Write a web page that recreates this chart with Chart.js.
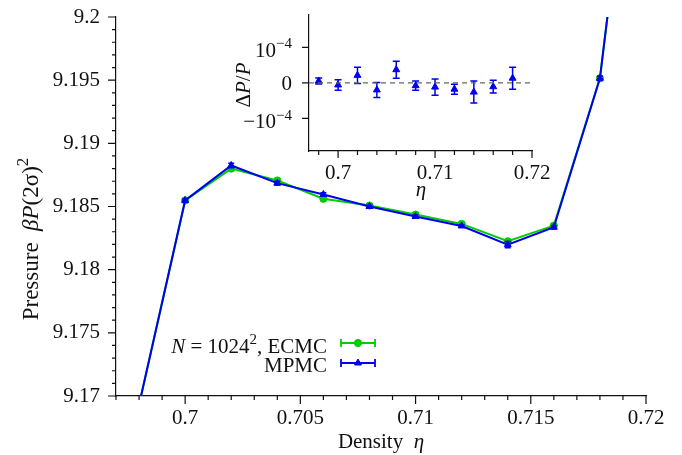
<!DOCTYPE html>
<html>
<head>
<meta charset="utf-8">
<script src="https://cdn.jsdelivr.net/npm/chart.js@4.4.1/dist/chart.umd.min.js"></script>
<style>
  body { margin: 0; background: #fff; }
  #wrap { position: relative; width: 682px; height: 455px; }
  #main { position: absolute; left: 0; top: 0; }
  #inset { position: absolute; left: 230px; top: 0; }
</style>
</head>
<body>
<div id="wrap">
  <canvas id="main" width="682" height="455"></canvas>
  <canvas id="inset" width="330" height="200"></canvas>
</div>
<script>
// main panel: pressure vs density
const etaMain = [0.698, 0.700, 0.702, 0.704, 0.706, 0.708, 0.710, 0.712, 0.714, 0.716, 0.718, 0.720];
const pressureECMC = [9.1693, 9.18548, 9.18800, 9.18706, 9.18561, 9.18508, 9.18436, 9.18362, 9.18225, 9.18349, 9.19515, 9.2250];
const errorECMC = [0.0002, 0.00012, 0.00014, 0.00012, 0.00014, 0.0001, 0.0001, 0.0001, 0.00012, 0.0001, 0.00015, 0.0002];
const pressureMPMC = [9.1693, 9.18548, 9.18825, 9.18685, 9.18595, 9.18500, 9.18421, 9.18346, 9.18198, 9.18336, 9.19515, 9.2250];
const errorMPMC = [0.0002, 0.00012, 0.00018, 0.00014, 0.00014, 0.0001, 0.00012, 0.0001, 0.00024, 0.00012, 0.00018, 0.0002];

const xTicksMain = [0.7, 0.705, 0.71, 0.715, 0.72];
const xLabelsMain = ['0.7', '0.705', '0.71', '0.715', '0.72'];
const yTicksMain = [9.17, 9.175, 9.18, 9.185, 9.19, 9.195, 9.2];
const yLabelsMain = ['9.17', '9.175', '9.18', '9.185', '9.19', '9.195', '9.2'];

// inset: relative difference
const etaInset = [0.698, 0.700, 0.702, 0.704, 0.706, 0.708, 0.710, 0.712, 0.714, 0.716, 0.718];
const deltaP = [0.05e-4, -0.06e-4, 0.21e-4, -0.20e-4, 0.37e-4, -0.08e-4, -0.12e-4, -0.18e-4, -0.26e-4, -0.11e-4, 0.13e-4];
const deltaPErr = [0.085e-4, 0.15e-4, 0.23e-4, 0.21e-4, 0.24e-4, 0.13e-4, 0.23e-4, 0.14e-4, 0.31e-4, 0.18e-4, 0.31e-4];

const xTicksInset = [0.7, 0.71, 0.72];
const xLabelsInset = ['0.7', '0.71', '0.72'];
const yTicksInset = [-1e-4, 0, 1e-4];

const FONT = '"Liberation Serif", "Times New Roman", serif';
const GREEN = '#00cc00';
const BLUE = '#0000ee';
const INK = '#111';

function pts(xs, ys) {
    return xs.map((x, i) => ({ x: x, y: ys[i] }));
}

function steps(from, to, step) {
    const out = [];
    const n = Math.round((to - from) / step);
    for (let k = 0; k <= n; k++) out.push(from + k * step);
    return out;
}

// draw a run of text pieces: [text, style] with style '' | 'i' (italic) | 's' (superscript)
function drawRich(ctx, parts, x, y, size, align) {
    const fonts = parts.map(p => p[1] === 's' ? `${Math.round(size * 0.72)}px ${FONT}` :
        (p[1] === 'i' ? `italic ${size}px ${FONT}` : `${size}px ${FONT}`));
    let w = 0;
    parts.forEach((p, i) => { ctx.font = fonts[i]; w += ctx.measureText(p[0]).width; });
    let cx = align === 'right' ? x - w : (align === 'center' ? x - w / 2 : x);
    ctx.textAlign = 'left';
    ctx.textBaseline = 'alphabetic';
    parts.forEach((p, i) => {
        ctx.font = fonts[i];
        ctx.fillText(p[0], cx, p[1] === 's' ? y - size * 0.42 : y);
        cx += ctx.measureText(p[0]).width;
    });
}

const tickMarks = {
    id: 'tickMarks',
    afterDraw(chart, args, o) {
        const { ctx, chartArea: a } = chart;
        const xs = chart.scales.x, ys = chart.scales.y;
        ctx.save();
        ctx.strokeStyle = INK;
        ctx.lineWidth = 1.2;
        ctx.beginPath();
        o.xMinor.forEach(v => { const p = xs.getPixelForValue(v); ctx.moveTo(p, a.bottom); ctx.lineTo(p, a.bottom + o.minor); });
        o.xMajor.forEach(v => { const p = xs.getPixelForValue(v); ctx.moveTo(p, a.bottom); ctx.lineTo(p, a.bottom + o.major); });
        o.yMinor.forEach(v => { const p = ys.getPixelForValue(v); ctx.moveTo(a.left, p); ctx.lineTo(a.left - o.minor, p); });
        o.yMajor.forEach(v => { const p = ys.getPixelForValue(v); ctx.moveTo(a.left, p); ctx.lineTo(a.left - o.major, p); });
        ctx.stroke();
        ctx.restore();
    }
};

const errorBars = {
    id: 'errorBars',
    afterDatasetDraw(chart, args) {
        const ds = chart.data.datasets[args.index];
        if (!ds.errors) return;
        const { ctx, chartArea: a } = chart;
        const ys = chart.scales.y;
        ctx.save();
        ctx.beginPath();
        ctx.rect(a.left, a.top, a.right - a.left, a.bottom - a.top);
        ctx.clip();
        ctx.strokeStyle = ds.borderColor;
        ctx.lineWidth = 1.5;
        const c = ds.capHalf;
        args.meta.data.forEach((pt, i) => {
            const d = ds.data[i], e = ds.errors[i];
            const y1 = ys.getPixelForValue(d.y - e), y2 = ys.getPixelForValue(d.y + e);
            ctx.beginPath();
            ctx.moveTo(pt.x, y1); ctx.lineTo(pt.x, y2);
            ctx.moveTo(pt.x - c, y1); ctx.lineTo(pt.x + c, y1);
            ctx.moveTo(pt.x - c, y2); ctx.lineTo(pt.x + c, y2);
            ctx.stroke();
        });
        ctx.restore();
    }
};

// titles and legend of the main panel
const mainText = {
    id: 'mainText',
    afterDraw(chart) {
        const ctx = chart.ctx;
        ctx.save();
        ctx.fillStyle = INK;
        drawRich(ctx, [['Density  ', ''], ['η', 'i']], 381, 448, 21, 'center');
        ctx.save();
        ctx.translate(38, 239);
        ctx.rotate(-Math.PI / 2);
        drawRich(ctx, [['Pressure  ', ''], ['βP', 'i'], ['(2σ)', ''], ['2', 's']], 0, 0, 23, 'center');
        ctx.restore();

        drawRich(ctx, [['N', 'i'], [' = 1024', ''], ['2', 's'], [', ECMC', '']], 327, 353, 21, 'right');
        drawRich(ctx, [['MPMC', '']], 327, 372, 21, 'right');

        const rows = [[GREEN, 'circle', 3.6, 343], [BLUE, 'triangle', 4, 363]];
        rows.forEach(r => {
            ctx.strokeStyle = r[0];
            ctx.fillStyle = r[0];
            ctx.lineWidth = 1.8;
            ctx.beginPath();
            ctx.moveTo(341, r[3]); ctx.lineTo(375, r[3]);
            ctx.moveTo(341, r[3] - 4); ctx.lineTo(341, r[3] + 4);
            ctx.moveTo(375, r[3] - 4); ctx.lineTo(375, r[3] + 4);
            ctx.stroke();
            ctx.lineWidth = 1;
            Chart.helpers.drawPoint(ctx, { pointStyle: r[1], radius: r[2], borderWidth: 1, rotation: 0 }, 358, r[3]);
        });
        ctx.restore();
    }
};

const insetText = {
    id: 'insetText',
    afterDraw(chart) {
        const ctx = chart.ctx;
        const ys = chart.scales.y;
        const a = chart.chartArea;
        ctx.save();
        ctx.fillStyle = INK;
        const rx = a.left - 17;
        yTicksInset.forEach(v => {
            const p = ys.getPixelForValue(v) + 7;
            if (v === 0) drawRich(ctx, [['0', '']], rx, p, 21, 'right');
            else drawRich(ctx, [[v < 0 ? '−10' : '10', ''], ['−4', 's']], rx, p + 3, 21, 'right');
        });
        drawRich(ctx, [['η', 'i']], 191, 196, 21, 'center');
        ctx.save();
        ctx.translate(20, 85);
        ctx.rotate(-Math.PI / 2);
        drawRich(ctx, [['Δ', ''], ['P', 'i'], ['/', ''], ['P', 'i']], 0, 0, 21, 'center');
        ctx.restore();

        // dashed zero line
        const y0 = ys.getPixelForValue(0);
        ctx.strokeStyle = '#666';
        ctx.lineWidth = 1.2;
        ctx.setLineDash([5, 4]);
        ctx.beginPath();
        ctx.moveTo(a.left, y0);
        ctx.lineTo(a.right, y0);
        ctx.stroke();
        ctx.restore();
    }
};

const tickFont = { family: FONT, size: 21 };

new Chart(document.getElementById('main'), {
    type: 'line',
    data: {
        datasets: [
            {
                label: 'ECMC',
                data: pts(etaMain, pressureECMC),
                errors: errorECMC,
                capHalf: 3,
                borderColor: GREEN,
                backgroundColor: GREEN,
                borderWidth: 2,
                pointStyle: 'circle',
                pointRadius: 3.6,
                pointBorderWidth: 1,
                order: 2,
                clip: 0
            },
            {
                label: 'MPMC',
                data: pts(etaMain, pressureMPMC),
                errors: errorMPMC,
                capHalf: 3,
                borderColor: BLUE,
                backgroundColor: BLUE,
                borderWidth: 2,
                pointStyle: 'triangle',
                pointRadius: 4,
                pointBorderWidth: 1,
                order: 1,
                clip: 0
            }
        ]
    },
    options: {
        responsive: false,
        animation: false,
        layout: { padding: { left: 0, top: 17, right: 36, bottom: 0 } },
        plugins: {
            legend: { display: false },
            tooltip: { enabled: false },
            tickMarks: {
                xMajor: xTicksMain, xMinor: steps(0.697, 0.72, 0.001),
                yMajor: yTicksMain, yMinor: steps(9.17, 9.2, 0.001),
                major: 8, minor: 4
            }
        },
        scales: {
            x: {
                type: 'linear',
                min: 0.697,
                max: 0.72,
                afterBuildTicks: s => { s.ticks = xTicksMain.map(v => ({ value: v })); },
                afterFit: s => { s.height = 59; s.paddingLeft = 0; s.paddingRight = 0; },
                grid: { display: false, drawTicks: false },
                border: { display: true, color: INK, width: 1.2 },
                ticks: {
                    font: tickFont, color: INK, padding: 10, maxRotation: 0,
                    callback: (v, i) => xLabelsMain[i]
                }
            },
            y: {
                min: 9.17,
                max: 9.2,
                afterBuildTicks: s => { s.ticks = yTicksMain.map(v => ({ value: v })); },
                afterFit: s => { s.width = 116; s.paddingTop = 0; s.paddingBottom = 0; },
                grid: { display: false, drawTicks: false },
                border: { display: true, color: INK, width: 1.2 },
                ticks: {
                    font: tickFont, color: INK, padding: 16,
                    callback: (v, i) => yLabelsMain[i]
                }
            }
        }
    },
    plugins: [tickMarks, errorBars, mainText]
});

new Chart(document.getElementById('inset'), {
    type: 'line',
    data: {
        datasets: [{
            label: 'MPMC - ECMC',
            data: pts(etaInset, deltaP),
            errors: deltaPErr,
            capHalf: 3.5,
            borderColor: BLUE,
            backgroundColor: BLUE,
            showLine: false,
            pointStyle: 'triangle',
            pointRadius: 4,
            pointBorderWidth: 1,
            clip: 0
        }]
    },
    options: {
        responsive: false,
        animation: false,
        layout: { padding: { left: 0, top: 15, right: 28, bottom: 0 } },
        plugins: {
            legend: { display: false },
            tooltip: { enabled: false },
            tickMarks: {
                xMajor: xTicksInset, xMinor: steps(0.698, 0.718, 0.002),
                yMajor: yTicksInset, yMinor: [],
                major: 7, minor: 4
            }
        },
        scales: {
            x: {
                type: 'linear',
                min: 0.697,
                max: 0.72,
                afterBuildTicks: s => { s.ticks = xTicksInset.map(v => ({ value: v })); },
                afterFit: s => { s.height = 49; s.paddingLeft = 0; s.paddingRight = 0; },
                grid: { display: false, drawTicks: false },
                border: { display: true, color: INK, width: 1.2 },
                ticks: {
                    font: tickFont, color: INK, padding: 10, maxRotation: 0,
                    callback: (v, i) => xLabelsInset[i]
                }
            },
            y: {
                min: -1.92e-4,
                max: 1.91e-4,
                afterBuildTicks: s => { s.ticks = yTicksInset.map(v => ({ value: v })); },
                afterFit: s => { s.width = 79; s.paddingTop = 0; s.paddingBottom = 0; },
                grid: { display: false, drawTicks: false },
                border: { display: true, color: INK, width: 1.2 },
                ticks: { display: false }
            }
        }
    },
    plugins: [insetText, tickMarks, errorBars]
});
</script>
</body>
</html>
